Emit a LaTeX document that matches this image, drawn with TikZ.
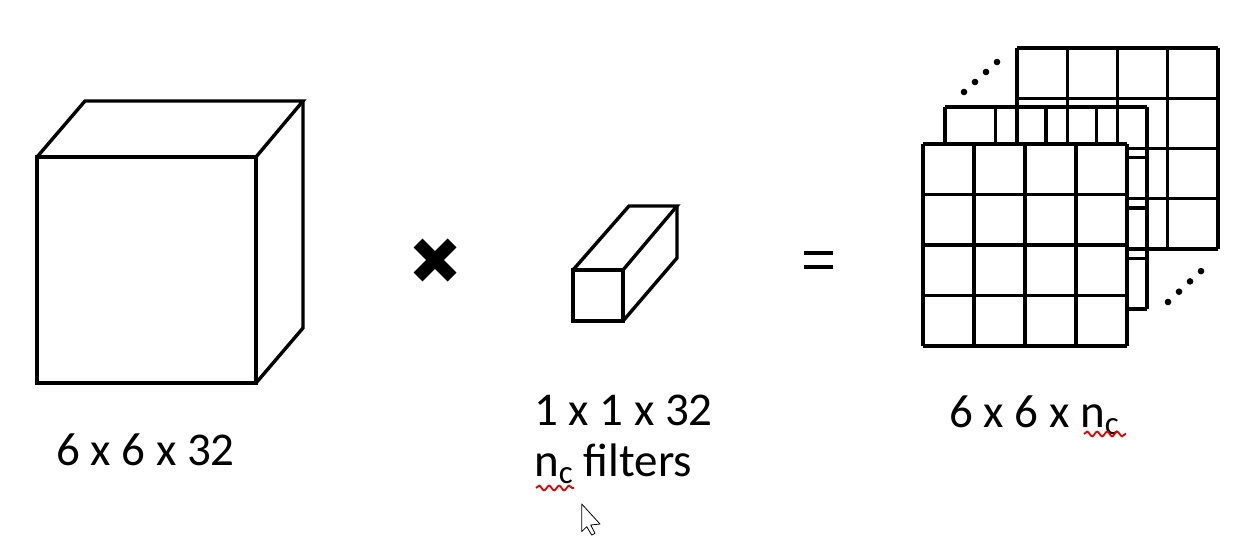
\documentclass[tikz,border=0pt]{standalone}
\usepackage{fontspec}
\setmainfont{Carlito}
\usetikzlibrary{decorations.pathmorphing}
\begin{document}
\begin{tikzpicture}[x=1pt,y=-1pt, line join=miter,
  edge/.style={line width=3.4pt, draw=black},
  gridln/.style={line width=3.4pt, draw=black},
  lbl/.style={anchor=base west, inner sep=0pt, font=\fontsize{47}{56}\selectfont},
  squig/.style={draw=red!90!black, line width=1.8pt, decorate, decoration={snake, segment length=10pt, amplitude=2.4pt}},
  dotmark/.style={fill=black}]
\useasboundingbox (0,0) rectangle (1245,543);

% big cube 6x6x32
\draw[edge] (37,157) rectangle (256,383);
\draw[edge] (37,157) -- (85,101) -- (303,101) -- (256,157);
\draw[edge] (303,101) -- (303,328) -- (256,383);

% multiplication sign
\draw[line width=12.5pt] (418,243) -- (452,277);
\draw[line width=12.5pt] (418,277) -- (452,243);

% small filter box 1x1x32
\draw[edge] (573,270) rectangle (623,321);
\draw[edge] (573,270) -- (629,206) -- (677,206) -- (623,270);
\draw[edge] (677,206) -- (677,258) -- (623,321);

% equals sign
\draw[line width=4.5pt] (804,253) -- (833,253);
\draw[line width=4.5pt] (804,267) -- (833,267);

% back grid
\foreach \i in {0,...,4} {
  \draw[gridln] ({1017+\i*50.25},48) -- ({1017+\i*50.25},249);
  \draw[gridln] (1017,{48+\i*50.25}) -- (1218,{48+\i*50.25});
}
% middle grid (unfilled)
\foreach \i in {0,...,4} {
  \draw[gridln] ({945+\i*50.5},107) -- ({945+\i*50.5},309);
  \draw[gridln] (945,{107+\i*50.5}) -- (1147,{107+\i*50.5});
}
% front grid (filled)
\fill[white] (923,144) rectangle (1127,346);
\foreach \i in {0,...,4} {
  \draw[gridln] ({923+\i*51},144) -- ({923+\i*51},346);
  \draw[gridln] (923,{144+\i*50.5}) -- (1127,{144+\i*50.5});
}

% dots
\foreach \k in {0,...,3} {
  \fill[dotmark] ({964+\k*11},{92-\k*10}) circle (3.3);
  \fill[dotmark] ({1168+\k*11},{302-\k*10.3}) circle (3.3);
}

% labels
\node[lbl] (l1) at (56,465) {6 x 6 x 32};
\node[lbl] (l2) at (534,425) {1 x 1 x 32};
\node[lbl] (l3) at (534,476) {n\textsubscript{c} filters};
\node[lbl] (l4) at (949,427) {6 x 6 x n\textsubscript{c}};

% spell-check squiggles
\draw[squig] (536,488) -- (574,488);
\draw[squig] (1084,434) -- (1126,434);

% mouse cursor
\draw[line width=0.8pt, fill=white, line join=round]
  (581.7,504) -- (581.7,531.7) -- (586.7,526.7) -- (591.7,535) -- (595,533.3) -- (590.7,525) -- (600,524) -- cycle;
\end{tikzpicture}
\end{document}
